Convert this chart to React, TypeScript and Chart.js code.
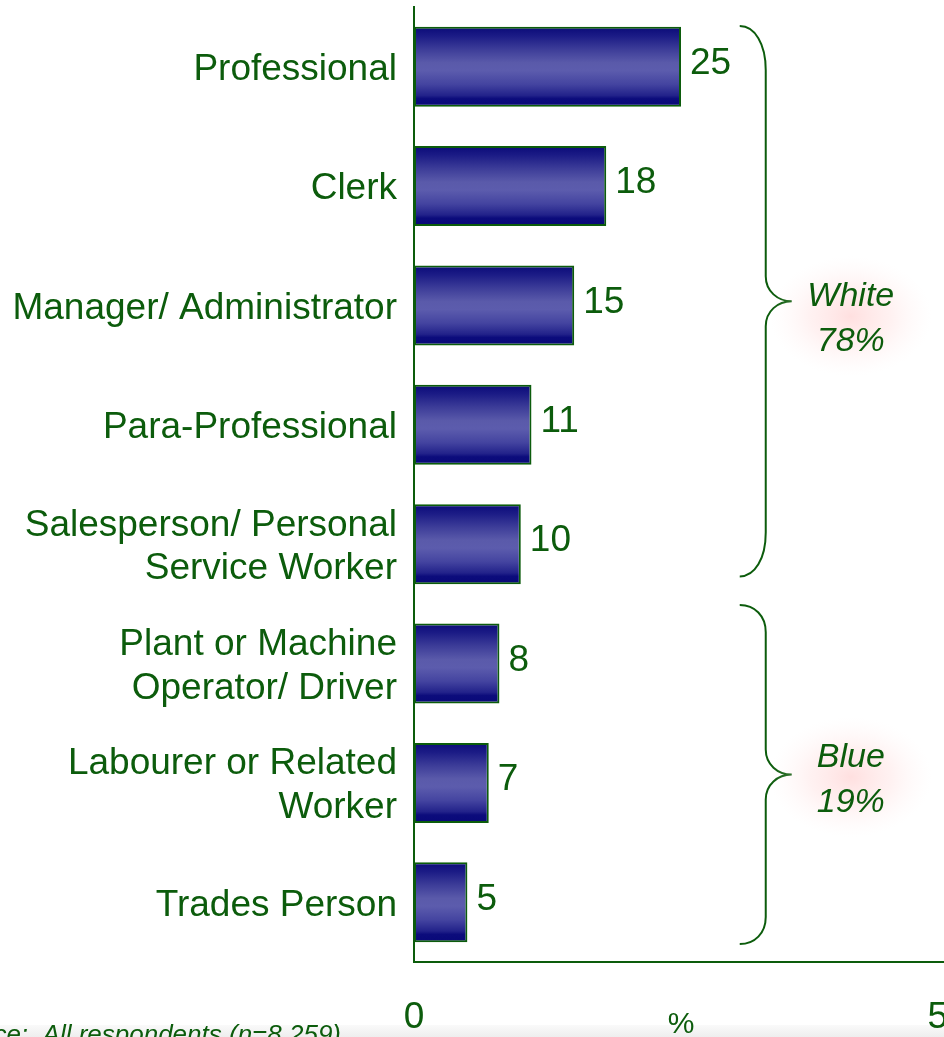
import React, { useEffect, useRef } from 'react';
import { Chart, registerables } from 'chart.js';

Chart.register(...registerables);

// ---- data ----
const categories: (string | string[])[] = [
  'Professional',
  'Clerk',
  'Manager/ Administrator',
  'Para-Professional',
  ['Salesperson/ Personal', 'Service Worker'],
  ['Plant or Machine', 'Operator/ Driver'],
  ['Labourer or Related', 'Worker'],
  'Trades Person',
];
const values = [25, 18, 15, 11, 10, 8, 7, 5];
const xTickLabels = [0, 50];
const axisTitle = '%';
const groupNames = ['White', 'Blue'];
const groupShares = ['78%', '19%'];
// brace extents and text centre, in category-axis units (annotation layout)
const braceStart = [-0.34, 4.51];
const braceEnd = [4.27, 7.35];
const groupTextAt = [2.09, 5.95];
const footnote = 'Source:  All respondents (n=8,259)';

// ---- style ----
const GREEN = '#0c5c0c';
const FONT = '"Liberation Sans", Arial, Helvetica, sans-serif';
const BAR_PCT = 0.67;
const W = 1000;
const H = 1037;

const overlay = {
  id: 'overlay',
  beforeDraw(chart: any) {
    const ctx = chart.ctx as CanvasRenderingContext2D;
    ctx.save();
    ctx.fillStyle = '#ffffff';
    ctx.fillRect(0, 0, chart.width, chart.height);
    const g = ctx.createLinearGradient(0, 1025, 0, 1037);
    g.addColorStop(0, '#fafafa');
    g.addColorStop(1, '#eeeeee');
    ctx.fillStyle = g;
    ctx.fillRect(0, 1025, chart.width, 12);
    ctx.restore();
  },
  afterDatasetsDraw(chart: any) {
    const ctx = chart.ctx as CanvasRenderingContext2D;
    const meta = chart.getDatasetMeta(0);
    ctx.save();
    ctx.fillStyle = GREEN;
    ctx.font = `37px ${FONT}`;
    ctx.textAlign = 'left';
    ctx.textBaseline = 'middle';
    meta.data.forEach((el: any, i: number) => {
      ctx.fillText(String(values[i]), el.x + 9, el.y - 3);
    });
    ctx.restore();
  },
  afterDraw(chart: any) {
    const ctx = chart.ctx as CanvasRenderingContext2D;
    const xs = chart.scales.x;
    const ys = chart.scales.y;
    const xEnd = xs.getPixelForValue(30.5);
    const xLine = xEnd + 26;
    const xTip = xEnd + 52;
    const xText = xs.getPixelForValue(40.9);
    ctx.save();
    for (let k = 0; k < groupNames.length; k++) {
      const top = ys.getPixelForValue(braceStart[k]);
      const bot = ys.getPixelForValue(braceEnd[k]);
      const mid = (top + bot) / 2;
      const c = (bot - top) * 0.08;
      const m = 25;
      ctx.beginPath();
      ctx.moveTo(xEnd, top);
      ctx.bezierCurveTo(xEnd + 15, top, xLine, top + c * 0.4, xLine, top + c);
      ctx.lineTo(xLine, mid - m);
      ctx.bezierCurveTo(xLine, mid - m * 0.4, xLine + 12, mid, xTip, mid);
      ctx.bezierCurveTo(xLine + 12, mid, xLine, mid + m * 0.4, xLine, mid + m);
      ctx.lineTo(xLine, bot - c);
      ctx.bezierCurveTo(xLine, bot - c * 0.4, xEnd + 15, bot, xEnd, bot);
      ctx.strokeStyle = GREEN;
      ctx.lineWidth = 2;
      ctx.stroke();

      const ty = ys.getPixelForValue(groupTextAt[k]);
      // soft pink glow (elliptical)
      ctx.save();
      ctx.translate(xText, ty);
      ctx.scale(1.35, 1);
      const rg = ctx.createRadialGradient(0, 0, 0, 0, 0, 60);
      rg.addColorStop(0, 'rgba(255,185,185,0.45)');
      rg.addColorStop(0.5, 'rgba(255,210,210,0.3)');
      rg.addColorStop(1, 'rgba(255,235,235,0)');
      ctx.fillStyle = rg;
      ctx.fillRect(-62, -62, 124, 124);
      ctx.restore();

      ctx.fillStyle = GREEN;
      ctx.font = `italic 34px ${FONT}`;
      ctx.textAlign = 'center';
      ctx.textBaseline = 'alphabetic';
      ctx.fillText(groupNames[k], xText, ty - 10);
      ctx.fillText(groupShares[k], xText, ty + 35);
    }
    // footnote (cut off at the left edge like the reference)
    ctx.font = `italic 26px ${FONT}`;
    ctx.textAlign = 'right';
    ctx.textBaseline = 'alphabetic';
    ctx.fillStyle = GREEN;
    ctx.fillText(footnote, 341, 1043);
    ctx.restore();
  },
};

export default function App() {
  const ref = useRef<HTMLCanvasElement | null>(null);
  useEffect(() => {
    if (!ref.current) return;
    const chart = new Chart(ref.current, {
      type: 'bar',
      data: {
        labels: categories as any,
        datasets: [
          {
            data: values,
            backgroundColor: (c: any) => {
              const ch = c.chart;
              const ys = ch.scales && ch.scales.y;
              if (!ch.chartArea || !ys || c.dataIndex === undefined) return '#3a3a9a';
              const cy = ys.getPixelForValue(c.dataIndex);
              const band = Math.abs(ys.getPixelForValue(1) - ys.getPixelForValue(0));
              const half = (band * BAR_PCT) / 2;
              const g = ch.ctx.createLinearGradient(0, cy - half, 0, cy + half);
              g.addColorStop(0, '#0a0a78');
              g.addColorStop(0.12, '#1c1c86');
              g.addColorStop(0.28, '#3c3c98');
              g.addColorStop(0.45, '#5a5aaa');
              g.addColorStop(0.55, '#5c5cad');
              g.addColorStop(0.72, '#4444a0');
              g.addColorStop(0.86, '#22228a');
              g.addColorStop(0.9, '#0c0c7c');
              g.addColorStop(1, '#080878');
              return g;
            },
            borderColor: GREEN,
            borderWidth: 2,
            borderSkipped: false,
            barPercentage: BAR_PCT,
            categoryPercentage: 1,
          },
        ],
      },
      options: {
        indexAxis: 'y',
        responsive: false,
        devicePixelRatio: 1,
        animation: false,
        layout: { padding: { left: 0, right: 52, top: 7, bottom: 0 } },
        plugins: {
          legend: { display: false },
          tooltip: { enabled: false },
        },
        scales: {
          y: {
            grid: { display: false, drawTicks: false },
            border: { display: true, color: GREEN, width: 2 },
            ticks: {
              color: GREEN,
              font: { family: FONT, size: 37, lineHeight: 1.18 },
              padding: 17,
              labelOffset: 3,
              autoSkip: false,
            },
            afterFit: (s: any) => {
              s.width = 414;
              s.paddingTop = 0;
              s.paddingBottom = 0;
            },
          },
          x: {
            min: 0,
            max: 50,
            grid: { display: false, drawTicks: false },
            border: { display: true, color: GREEN, width: 2 },
            ticks: {
              stepSize: 50,
              color: GREEN,
              font: { family: FONT, size: 37, lineHeight: 1.2 },
              padding: 34,
              maxRotation: 0,
              autoSkip: false,
              callback: (v: any) => (xTickLabels.includes(Number(v)) ? String(v) : ''),
            },
            title: {
              display: true,
              text: axisTitle,
              color: GREEN,
              font: { family: FONT, size: 30, lineHeight: 0.8 },
              padding: 0,
            },
            afterFit: (s: any) => {
              s.height = 75;
              s.paddingLeft = 0;
              s.paddingRight = 0;
            },
          },
        },
      },
      plugins: [overlay],
    });
    return () => chart.destroy();
  }, []);

  return (
    <div
      style={{
        position: 'fixed',
        left: 0,
        top: 0,
        width: 944,
        height: 1037,
        overflow: 'hidden',
        background: '#ffffff',
      }}
    >
      <canvas ref={ref} width={W} height={H} style={{ display: 'block', width: W, height: H }} />
    </div>
  );
}
